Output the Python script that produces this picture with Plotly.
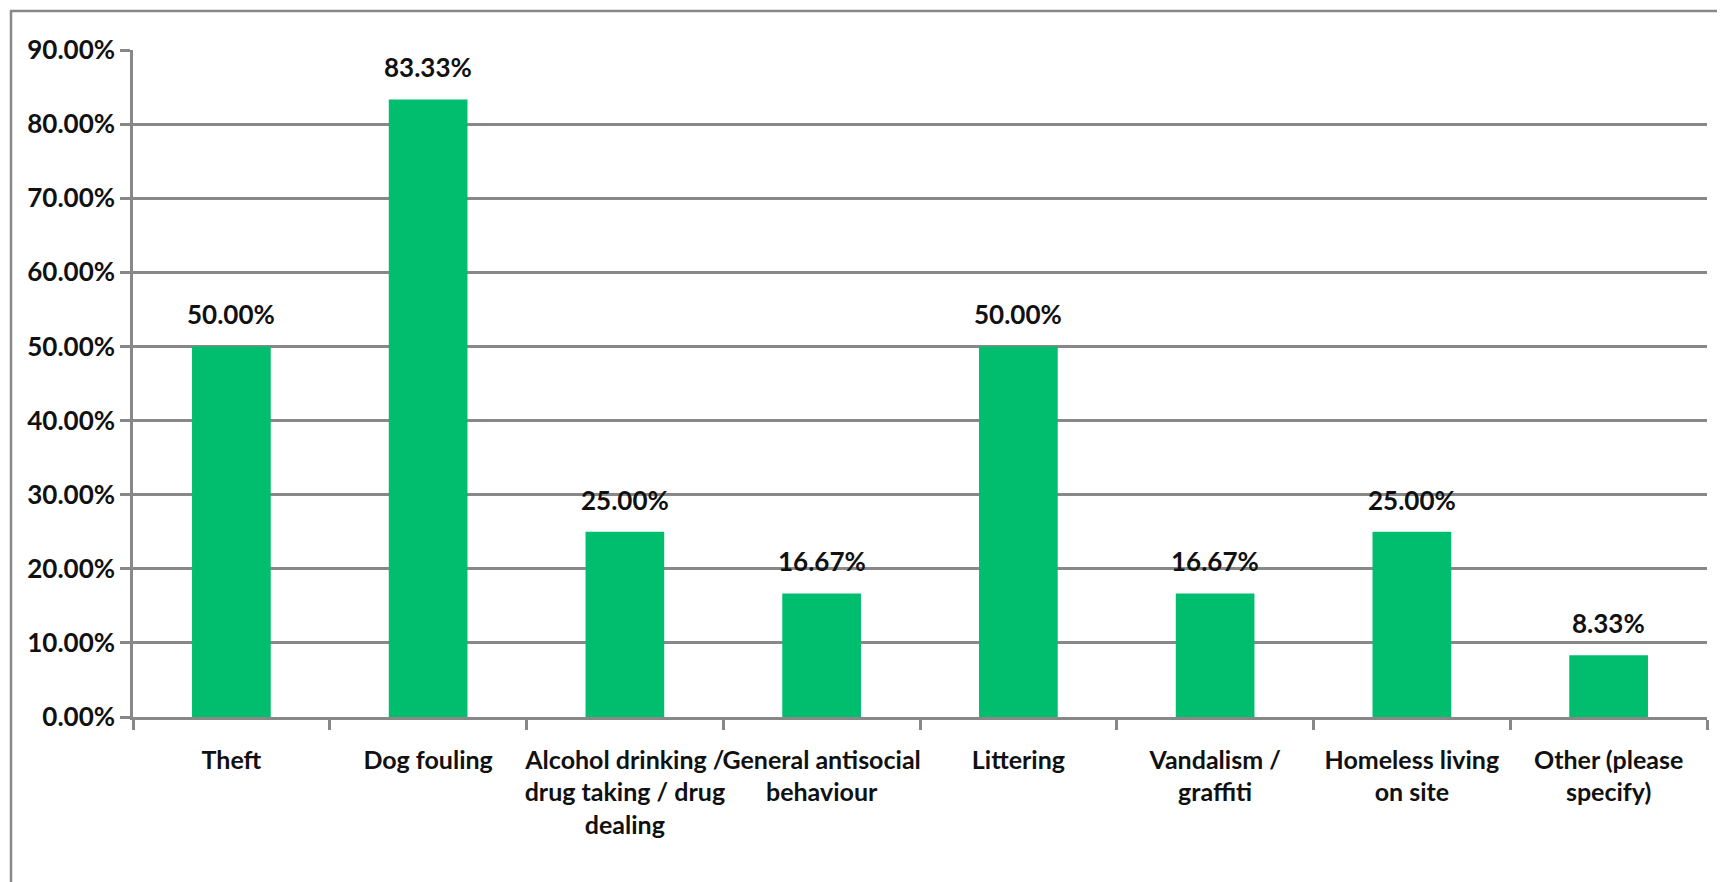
import plotly.graph_objects as go

categories = [
    "Theft",
    "Dog fouling",
    "Alcohol drinking /<br>drug taking / drug<br>dealing",
    "General antisocial<br>behaviour",
    "Littering",
    "Vandalism /<br>graffiti",
    "Homeless living<br>on site",
    "Other (please<br>specify)",
]
values = [0.5, 0.8333, 0.25, 0.1667, 0.5, 0.1667, 0.25, 0.0833]
tick_vals = [i / 10 for i in range(10)]

FONT = "Lato, sans-serif"
GREEN = "#00BE6E"
GRAY = "#888888"
TXT = "#111111"
FS = 26
FSX = 25

fig = go.Figure()
fig.add_trace(go.Bar(
    x=categories, y=values,
    marker=dict(color=GREEN, line=dict(width=0)),
    hoverinfo="skip",
))

for c, v in zip(categories, values):
    fig.add_annotation(
        x=c, y=v, text=f"<b>{v*100:.2f}%</b>", showarrow=False,
        yanchor="bottom", yshift=14,
        font=dict(family=FONT, size=FS, color=TXT),
    )

# page has an 8px body margin; figure sized to fill the window
OFF = 8
W, H = 1725 - OFF, 882 - OFF
L, R, T, B = 133 - OFF, 18, 50 - OFF, 165
pw, ph = W - L - R, H - T - B

def px_to_paper_x(px):
    return (px - OFF - L) / pw

def px_to_paper_y(py):
    return (H - B - (py - OFF)) / ph

fig.add_shape(
    type="rect", xref="paper", yref="paper",
    x0=px_to_paper_x(11), x1=px_to_paper_x(1725 + 30),
    y0=px_to_paper_y(882 + 30), y1=px_to_paper_y(11),
    line=dict(color=GRAY, width=2.5), fillcolor="rgba(0,0,0,0)", layer="below",
)

fig.update_layout(
    width=W, height=H,
    margin=dict(l=L, r=R, t=T, b=B, pad=0),
    plot_bgcolor="white", paper_bgcolor="white",
    bargap=0.6, showlegend=False,
    font=dict(family=FONT, size=FS, color=TXT),
)
fig.update_yaxes(
    range=[0, 0.9], tickvals=tick_vals + [0.9],
    ticktext=[f"<b>{t*100:.2f}%</b>" for t in tick_vals + [0.9]],
    showgrid=True, gridcolor=GRAY, gridwidth=2.5,
    showline=True, linecolor=GRAY, linewidth=2.5,
    ticks="outside", ticklen=10, tickcolor=GRAY, tickwidth=2.5,
    zeroline=False, fixedrange=True, automargin=False,
    tickfont=dict(family=FONT, size=FS, color=TXT),
)
fig.update_xaxes(
    tickvals=categories, ticktext=[f"<b>{c}</b>" for c in categories],
    showline=True, linecolor=GRAY, linewidth=2.5,
    ticks="outside", ticklen=10, tickcolor=GRAY, tickwidth=2.5,
    tickson="boundaries", tickangle=0, ticklabelstandoff=19,
    fixedrange=True, automargin=False,
    tickfont=dict(family=FONT, size=FSX, color=TXT),
)

fig.write_html("out.html")
